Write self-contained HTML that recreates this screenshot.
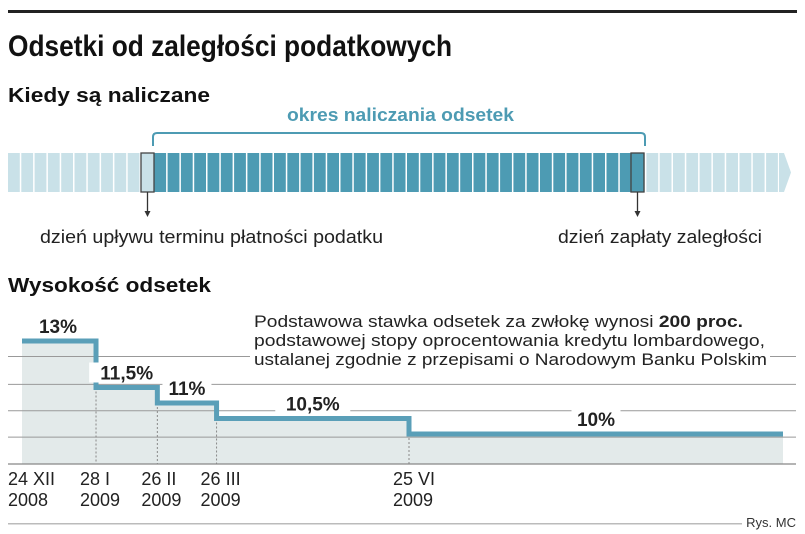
<!DOCTYPE html>
<html><head><meta charset="utf-8"><style>
body{margin:0;background:#fff;width:805px;height:534px;overflow:hidden;font-family:"Liberation Sans",sans-serif}
svg{display:block}
</style></head><body>
<svg id="c" width="805" height="534" viewBox="0 0 805 534" xmlns="http://www.w3.org/2000/svg">
<rect x="8" y="10" width="789" height="3" fill="#222"/>
<text x="8" y="56" font-family="Liberation Sans, sans-serif" font-weight="bold" font-size="30" fill="#111" textLength="444" lengthAdjust="spacingAndGlyphs">Odsetki od zaległości podatkowych</text>
<text x="8" y="102" font-weight="bold" font-size="20" fill="#111" textLength="202" lengthAdjust="spacingAndGlyphs">Kiedy są naliczane</text>
<text x="287" y="121" font-weight="bold" font-size="18" fill="#4d9bb3" textLength="227" lengthAdjust="spacingAndGlyphs">okres naliczania odsetek</text>
<path d="M153,146 V137 Q153,133 157,133 H641 Q645,133 645,137 V146" fill="none" stroke="#4d9bb3" stroke-width="2"/>
<g id="bar"></g>
<text x="40" y="243" font-size="18" fill="#222" textLength="343" lengthAdjust="spacingAndGlyphs">dzień upływu terminu płatności podatku</text>
<text x="558" y="243" font-size="18" fill="#222" textLength="204" lengthAdjust="spacingAndGlyphs">dzień zapłaty zaległości</text>
<text x="8" y="292" font-weight="bold" font-size="20" fill="#111" textLength="203" lengthAdjust="spacingAndGlyphs">Wysokość odsetek</text>
<g id="chart"></g>
<g font-size="17" fill="#222">
<rect x="250" y="305" width="520" height="64" fill="#fff"/>
<text x="254" y="327" textLength="489" lengthAdjust="spacingAndGlyphs">Podstawowa stawka odsetek za zwłokę wynosi <tspan font-weight="bold">200 proc.</tspan></text>
<text x="254" y="346" textLength="511" lengthAdjust="spacingAndGlyphs">podstawowej stopy oprocentowania kredytu lombardowego,</text>
<text x="254" y="365" textLength="513" lengthAdjust="spacingAndGlyphs">ustalanej zgodnie z przepisami o Narodowym Banku Polskim</text>
</g>
<rect x="8" y="523" width="734" height="1.5" fill="#bbb"/>
<text x="796" y="527" text-anchor="end" font-size="13" fill="#333">Rys. MC</text>
</svg>
<script>
const dates=["2008-12-24","2009-01-28","2009-02-26","2009-03-26","2009-06-25"];
const rates=[13,11.5,11,10.5,10];
const rateLabels=["13%","11,5%","11%","10,5%","10%"];
const tickLine1=["24 XII","28 I","26 II","26 III","25 VI"];
const tickLine2=["2008","2009","2009","2009","2009"];
const gridValues=[12.5,11.6,10.75,9.9];
const NS="http://www.w3.org/2000/svg";
function mk(tag,attrs,parent){const e=document.createElementNS(NS,tag);for(const k in attrs)e.setAttribute(k,attrs[k]);parent.appendChild(e);return e;}
const bar=document.getElementById('bar');
const cw=13.3;
for(let i=0;i<58;i++){
  const x=8+i*cw;
  if(x>778)break;
  const dark=x>=154&&x<630;
  const r=mk('rect',{x:x,y:153,width:cw-1.5,height:39,fill:dark?'#4d9bb3':'#c9e1e8'},bar);
  
  
}
const tip=mk('polygon',{points:'779,153 784,153 791,172.5 784,192 779,192',fill:'#c9e1e8'},bar);


const b1=mk('rect',{x:141,y:153,width:13,height:39,fill:'#c9e1e8',stroke:'#444','stroke-width':1.3},bar);


const b2=mk('rect',{x:631,y:153,width:13,height:39,fill:'#4d9bb3',stroke:'#444','stroke-width':1.3},bar);


[[147.5,'due-arrow'],[637.5,'payment-arrow']].forEach(([x,n])=>{
  const g=mk('g',{},bar);
  
  
  mk('line',{x1:x,y1:192,x2:x,y2:213,stroke:'#333','stroke-width':1.3},g);
  mk('polygon',{points:`${x-3},211 ${x+3},211 ${x},217`,fill:'#333'},g);
});
const ch=document.getElementById('chart');
const t0=Date.parse(dates[0]),t4=Date.parse(dates[4]);
const X0=22,X4=409,XEND=783;
const x=d=>X0+(Date.parse(d)-t0)/(t4-t0)*(X4-X0);
const y=v=>341+(13-v)*31;
const base=464;
let pts=[];
rates.forEach((r,i)=>{
  const xa=x(dates[i]);const xb=i<rates.length-1?x(dates[i+1]):XEND;
  pts.push([xa,y(r)],[xb,y(r)]);
});
const area=mk('path',{d:`M${X0},${base} `+pts.map(p=>`L${p[0]},${p[1]}`).join(' ')+` L${XEND},${base} Z`,fill:'#e3eaea'},ch);


gridValues.forEach(v=>{
  const l=mk('line',{x1:8,x2:796,y1:y(v),y2:y(v),stroke:'#999','stroke-width':1},ch);
  
  
});
const ax=mk('line',{x1:8,x2:796,y1:base,y2:base,stroke:'#888','stroke-width':1.3},ch);


dates.forEach((d,i)=>{
  if(i>0){
    const l=mk('line',{x1:x(d),x2:x(d),y1:y(rates[i]),y2:base,stroke:'#888','stroke-width':1,'stroke-dasharray':'2,2'},ch);
    
    
  }
  const tx=i===0?8:x(d)-16;
  const t=mk('text',{x:tx,y:485,'font-size':18,fill:'#222'},ch);
  t.textContent=tickLine1[i];
  
  
  const t2=mk('text',{x:tx,y:506,'font-size':18,fill:'#222'},ch);
  t2.textContent=tickLine2[i];
  
  
});
const line=mk('polyline',{points:pts.map(p=>p.join(',')).join(' '),fill:'none',stroke:'#5a9fb8','stroke-width':5},ch);


rates.forEach((r,i)=>{
  const xa=x(dates[i]);const xb=i<rates.length-1?x(dates[i+1]):XEND;
  const cx=i===0?xa+36:(xa+xb)/2;
  const w=rateLabels[i].length*13+10;
  const bg=mk('rect',{x:cx-w/2,y:y(r)-25,width:w,height:20,fill:'#fff'},ch);
  
  
  const t=mk('text',{x:cx,y:y(r)-8,'text-anchor':'middle','font-size':19,'font-weight':'bold',fill:'#222'},ch);
  t.textContent=rateLabels[i];
  
  
});
</script>
</body></html>
